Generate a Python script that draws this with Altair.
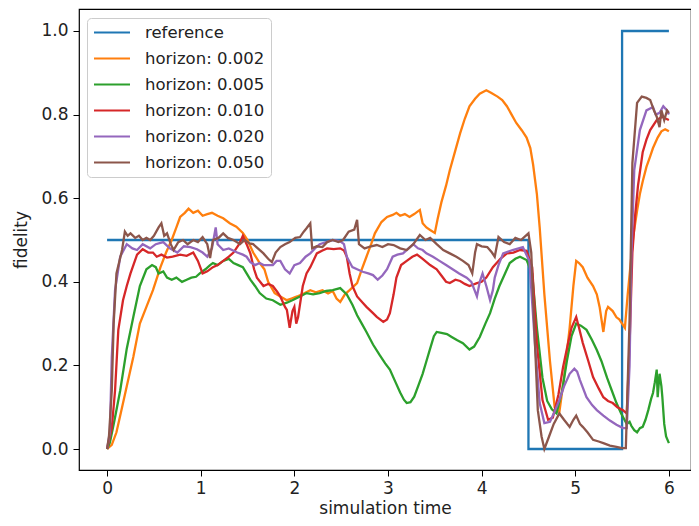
import altair as alt
import pandas as pd

series_names = ["reference", "horizon: 0.002", "horizon: 0.005", "horizon: 0.010",
                "horizon: 0.020", "horizon: 0.050"]
series_colors = ["#1f77b4", "#ff7f0e", "#2ca02c", "#d62728", "#9467bd", "#8c564b"]

x_ticks = [0, 1, 2, 3, 4, 5, 6]
y_ticks = [0.0, 0.2, 0.4, 0.6, 0.8, 1.0]

ref_t = [0.0, 4.5, 4.5, 5.5, 5.5, 6.0]
ref_y = [0.5, 0.5, 0.0, 0.0, 1.0, 1.0]

h002_t = [0, 0.05, 0.1, 0.15, 0.2, 0.28, 0.35, 0.42, 0.49, 0.57, 0.63, 0.69, 0.74, 0.78, 0.83,
          0.87, 0.92, 0.97, 1.02, 1.07, 1.12, 1.18, 1.24, 1.31, 1.38, 1.45, 1.5, 1.56, 1.63, 1.68,
          1.72, 1.79, 1.85, 1.92, 1.97, 2.03, 2.1, 2.17, 2.23, 2.3, 2.36, 2.41, 2.45, 2.49, 2.54,
          2.59, 2.67, 2.72, 2.77, 2.82, 2.86, 2.93, 2.99, 3.05, 3.09, 3.13, 3.18, 3.23, 3.28, 3.34,
          3.37, 3.41, 3.45, 3.5, 3.53, 3.57, 3.62, 3.66, 3.72, 3.77, 3.82, 3.87, 3.93, 3.98, 4.05,
          4.1, 4.17, 4.22, 4.27, 4.32, 4.37, 4.43, 4.48, 4.52, 4.55, 4.59, 4.62, 4.67, 4.73, 4.78,
          4.83, 4.88, 4.94, 4.98, 5.01, 5.04, 5.08, 5.13, 5.19, 5.23, 5.26, 5.3, 5.33, 5.35, 5.4,
          5.44, 5.47, 5.5, 5.53, 5.56, 5.59, 5.62, 5.66, 5.69, 5.72, 5.76, 5.8, 5.83, 5.88, 5.92,
          5.96, 6.0]
h002_y = [0.0, 0.01, 0.04, 0.09, 0.14, 0.22, 0.30, 0.34, 0.38, 0.435, 0.47, 0.50, 0.53, 0.555, 0.565,
          0.575, 0.565, 0.57, 0.558, 0.562, 0.565, 0.558, 0.552, 0.54, 0.532, 0.517, 0.50, 0.47, 0.445, 0.43,
          0.40, 0.373, 0.365, 0.356, 0.36, 0.365, 0.372, 0.38, 0.375, 0.38, 0.372, 0.378, 0.36, 0.352, 0.37,
          0.38, 0.397, 0.43, 0.46, 0.49, 0.516, 0.543, 0.555, 0.56, 0.565, 0.558, 0.562, 0.555, 0.562, 0.572,
          0.54, 0.53, 0.524, 0.517, 0.55, 0.59, 0.63, 0.667, 0.715, 0.755, 0.79, 0.82, 0.838, 0.85, 0.858,
          0.852, 0.843, 0.835, 0.82, 0.80, 0.78, 0.762, 0.745, 0.72, 0.68, 0.61, 0.53, 0.37, 0.21, 0.10,
          0.088, 0.17, 0.29, 0.39, 0.45, 0.445, 0.435, 0.41, 0.39, 0.37, 0.34, 0.28, 0.33, 0.34, 0.33,
          0.315, 0.31, 0.30, 0.29, 0.37, 0.44, 0.51, 0.57, 0.61, 0.64, 0.675, 0.70, 0.72, 0.745, 0.76,
          0.765, 0.76]

h005_t = [0, 0.03, 0.08, 0.14, 0.21, 0.28, 0.35, 0.42, 0.48, 0.52, 0.55, 0.6, 0.64, 0.69, 0.74, 0.8,
          0.85, 0.9, 0.95, 0.99, 1.05, 1.1, 1.13, 1.18, 1.24, 1.3, 1.35, 1.4, 1.45, 1.49, 1.53, 1.58,
          1.63, 1.7, 1.77, 1.85, 1.92, 1.99, 2.06, 2.13, 2.2, 2.27, 2.34, 2.41, 2.49, 2.56, 2.62, 2.67,
          2.72, 2.77, 2.84, 2.91, 2.97, 3.02, 3.08, 3.13, 3.17, 3.2, 3.24, 3.28, 3.33, 3.37, 3.41, 3.45,
          3.49, 3.52, 3.57, 3.63, 3.68, 3.74, 3.8, 3.87, 3.92, 3.98, 4.04, 4.09, 4.14, 4.19, 4.25, 4.3,
          4.36, 4.41, 4.48, 4.54, 4.59, 4.65, 4.7, 4.75, 4.8, 4.86, 4.91, 4.96, 5.01, 5.06, 5.12, 5.18,
          5.23, 5.28, 5.34, 5.39, 5.44, 5.49, 5.55, 5.58, 5.6, 5.63, 5.66, 5.69, 5.72, 5.75, 5.78, 5.81,
          5.83, 5.85, 5.87, 5.88, 5.9, 5.92, 5.93, 5.95, 5.97, 6.0]
h005_y = [0.0, 0.015, 0.07, 0.14, 0.24, 0.316, 0.39, 0.43, 0.44, 0.435, 0.42, 0.425, 0.41, 0.405, 0.41, 0.40,
          0.405, 0.41, 0.412, 0.42, 0.43, 0.44, 0.445, 0.44, 0.45, 0.455, 0.445, 0.44, 0.435, 0.42, 0.405, 0.39,
          0.373, 0.36, 0.356, 0.345, 0.35, 0.357, 0.365, 0.373, 0.37, 0.373, 0.378, 0.38, 0.385, 0.37, 0.345, 0.32,
          0.30, 0.28, 0.25, 0.225, 0.205, 0.19, 0.16, 0.135, 0.118, 0.11, 0.112, 0.125, 0.155, 0.18, 0.21, 0.24,
          0.27, 0.28, 0.278, 0.275, 0.268, 0.26, 0.253, 0.238, 0.245, 0.268, 0.30, 0.325, 0.36, 0.39, 0.42, 0.445,
          0.455, 0.46, 0.452, 0.42, 0.29, 0.17, 0.115, 0.095, 0.085, 0.14, 0.21, 0.27, 0.30, 0.295, 0.285, 0.26,
          0.237, 0.21, 0.17, 0.14, 0.11, 0.085, 0.06, 0.065, 0.055, 0.045, 0.04, 0.05, 0.053, 0.07, 0.093, 0.12,
          0.134, 0.16, 0.19, 0.124, 0.18, 0.15, 0.124, 0.06, 0.03, 0.014]

h010_t = [0, 0.05, 0.085, 0.12, 0.17, 0.21, 0.25, 0.32, 0.38, 0.44, 0.49, 0.53, 0.58, 0.64, 0.7, 0.78,
          0.85, 0.92, 0.97, 1.02, 1.07, 1.13, 1.18, 1.24, 1.3, 1.35, 1.41, 1.45, 1.49, 1.53, 1.57, 1.6,
          1.67, 1.72, 1.77, 1.82, 1.85, 1.9, 1.92, 1.95, 1.98, 2.0, 2.02, 2.04, 2.09, 2.13, 2.17, 2.24,
          2.3, 2.35, 2.42, 2.49, 2.53, 2.56, 2.59, 2.62, 2.67, 2.73, 2.77, 2.84, 2.88, 2.95, 2.99, 3.02,
          3.06, 3.09, 3.14, 3.2, 3.26, 3.31, 3.37, 3.45, 3.52, 3.57, 3.62, 3.66, 3.72, 3.77, 3.82, 3.87,
          3.95, 4.0, 4.05, 4.12, 4.2, 4.27, 4.34, 4.41, 4.48, 4.54, 4.59, 4.65, 4.71, 4.76, 4.82, 4.87,
          4.92, 4.96, 5.01, 5.04, 5.08, 5.14, 5.19, 5.25, 5.3, 5.35, 5.4, 5.45, 5.51, 5.55, 5.58, 5.61,
          5.64, 5.67, 5.72, 5.76, 5.8, 5.87, 5.93, 5.97, 6.0]
h010_y = [0.0, 0.05, 0.14, 0.285, 0.356, 0.39, 0.42, 0.465, 0.478, 0.47, 0.47, 0.46, 0.465, 0.458, 0.46, 0.465,
          0.462, 0.47, 0.45, 0.42, 0.425, 0.435, 0.44, 0.45, 0.46, 0.47, 0.49, 0.51, 0.49, 0.468, 0.43, 0.41,
          0.39, 0.395, 0.39, 0.375, 0.365, 0.34, 0.333, 0.29, 0.33, 0.34, 0.30, 0.316, 0.39, 0.42, 0.435, 0.468,
          0.475, 0.48, 0.478, 0.48, 0.475, 0.46, 0.42, 0.39, 0.365, 0.35, 0.34, 0.325, 0.316, 0.304, 0.31, 0.325,
          0.37, 0.41, 0.44, 0.45, 0.46, 0.465, 0.455, 0.44, 0.43, 0.415, 0.40, 0.397, 0.405, 0.402, 0.395, 0.39,
          0.397, 0.40, 0.41, 0.435, 0.455, 0.468, 0.47, 0.476, 0.474, 0.435, 0.25, 0.117, 0.07, 0.075, 0.13, 0.196,
          0.25, 0.29, 0.316, 0.29, 0.254, 0.21, 0.172, 0.145, 0.124, 0.115, 0.11, 0.10, 0.093, 0.085, 0.25, 0.47,
          0.56, 0.63, 0.71, 0.74, 0.763, 0.787, 0.795, 0.79, 0.787]

h020_t = [0, 0.03, 0.05, 0.085, 0.14, 0.21, 0.27, 0.32, 0.38, 0.46, 0.52, 0.6, 0.67, 0.75, 0.82, 0.89,
          0.96, 1.02, 1.07, 1.12, 1.16, 1.18, 1.24, 1.3, 1.39, 1.45, 1.49, 1.53, 1.58, 1.63, 1.67, 1.71,
          1.77, 1.81, 1.85, 1.9, 1.95, 2.0, 2.06, 2.12, 2.17, 2.22, 2.27, 2.34, 2.41, 2.49, 2.53, 2.56,
          2.62, 2.67, 2.73, 2.79, 2.84, 2.89, 2.94, 2.99, 3.05, 3.1, 3.16, 3.22, 3.27, 3.32, 3.37, 3.41,
          3.48, 3.55, 3.62, 3.69, 3.76, 3.84, 3.89, 3.95, 3.98, 4.01, 4.05, 4.09, 4.12, 4.14, 4.18, 4.23,
          4.33, 4.44, 4.51, 4.57, 4.62, 4.67, 4.73, 4.78, 4.83, 4.88, 4.94, 4.99, 5.02, 5.05, 5.12, 5.18,
          5.23, 5.3, 5.37, 5.44, 5.51, 5.55, 5.58, 5.6, 5.63, 5.69, 5.76, 5.83, 5.86, 5.9, 5.94, 5.98, 6.0]
h020_y = [0.0, 0.04, 0.22, 0.38, 0.46, 0.49, 0.48, 0.476, 0.49, 0.48, 0.49, 0.495, 0.48, 0.47, 0.485, 0.483,
          0.478, 0.47, 0.46, 0.48, 0.53, 0.49, 0.476, 0.48, 0.47, 0.465, 0.46, 0.447, 0.44, 0.445, 0.44, 0.44,
          0.44, 0.45, 0.45, 0.43, 0.42, 0.44, 0.445, 0.46, 0.468, 0.48, 0.49, 0.495, 0.50, 0.497, 0.49, 0.46,
          0.435, 0.43, 0.424, 0.42, 0.416, 0.405, 0.415, 0.43, 0.46, 0.465, 0.468, 0.48, 0.49, 0.48, 0.476, 0.468,
          0.46, 0.45, 0.44, 0.43, 0.42, 0.41, 0.40, 0.365, 0.40, 0.42, 0.39, 0.356, 0.38, 0.41, 0.44, 0.468,
          0.476, 0.483, 0.45, 0.25, 0.11, 0.062, 0.065, 0.09, 0.117, 0.15, 0.18, 0.192, 0.185, 0.165, 0.124, 0.105,
          0.093, 0.08, 0.068, 0.058, 0.05, 0.05, 0.2, 0.47, 0.667, 0.763, 0.81, 0.818, 0.80, 0.804, 0.82, 0.81, 0.80]

h050_t = [0, 0.02, 0.05, 0.07, 0.1, 0.16, 0.19, 0.22, 0.25, 0.3, 0.34, 0.38, 0.42, 0.46, 0.5, 0.55,
          0.58, 0.61, 0.64, 0.68, 0.71, 0.76, 0.81, 0.86, 0.92, 0.97, 1.02, 1.07, 1.1, 1.13, 1.19, 1.24,
          1.29, 1.35, 1.42, 1.47, 1.52, 1.56, 1.61, 1.67, 1.72, 1.76, 1.8, 1.85, 1.9, 1.95, 2.01, 2.06,
          2.1, 2.13, 2.17, 2.19, 2.24, 2.3, 2.35, 2.41, 2.47, 2.52, 2.58, 2.64, 2.67, 2.69, 2.75, 2.82,
          2.88, 2.94, 3.0, 3.06, 3.13, 3.2, 3.27, 3.34, 3.4, 3.45, 3.52, 3.59, 3.66, 3.73, 3.8, 3.86,
          3.9, 3.93, 3.95, 4.0, 4.06, 4.11, 4.14, 4.18, 4.24, 4.3, 4.36, 4.42, 4.47, 4.5, 4.53, 4.57,
          4.6, 4.64, 4.67, 4.72, 4.77, 4.83, 4.88, 4.94, 4.98, 5.01, 5.05, 5.08, 5.13, 5.19, 5.25, 5.3,
          5.37, 5.44, 5.5, 5.54, 5.58, 5.61, 5.66, 5.71, 5.76, 5.8, 5.84, 5.87, 5.9, 5.92, 5.95, 5.98, 6.0]
h050_y = [0.0, 0.03, 0.14, 0.3, 0.42, 0.476, 0.52, 0.51, 0.516, 0.505, 0.51, 0.50, 0.505, 0.50, 0.51, 0.53,
          0.54, 0.51, 0.516, 0.49, 0.476, 0.495, 0.50, 0.49, 0.50, 0.495, 0.507, 0.49, 0.457, 0.50, 0.505, 0.516,
          0.505, 0.50, 0.49, 0.50, 0.492, 0.49, 0.48, 0.468, 0.455, 0.447, 0.47, 0.483, 0.49, 0.495, 0.505, 0.507,
          0.52, 0.528, 0.54, 0.48, 0.485, 0.483, 0.495, 0.50, 0.495, 0.50, 0.52, 0.525, 0.548, 0.49, 0.48, 0.485,
          0.488, 0.483, 0.49, 0.488, 0.48, 0.476, 0.49, 0.512, 0.50, 0.505, 0.49, 0.476, 0.468, 0.46, 0.45, 0.44,
          0.42, 0.47, 0.49, 0.485, 0.483, 0.47, 0.46, 0.507, 0.495, 0.49, 0.505, 0.50, 0.51, 0.516, 0.47, 0.25,
          0.093, 0.03, 0.0, 0.03, 0.06, 0.085, 0.07, 0.053, 0.07, 0.08, 0.06, 0.053, 0.04, 0.022, 0.018, 0.014,
          0.008, 0.005, 0.002, 0.002, 0.31, 0.684, 0.828, 0.843, 0.84, 0.835, 0.81, 0.795, 0.77, 0.81, 0.787, 0.81, 0.804]

all_series = [
    (series_names[0], ref_t, ref_y),
    (series_names[1], h002_t, h002_y),
    (series_names[2], h005_t, h005_y),
    (series_names[3], h010_t, h010_y),
    (series_names[4], h020_t, h020_y),
    (series_names[5], h050_t, h050_y),
]

rows = []
for name, ts, ys in all_series:
    for i, (t, y) in enumerate(zip(ts, ys)):
        rows.append({"series": name, "t": t, "y": y, "i": i})
df = pd.DataFrame(rows)

FONT = "DejaVu Sans"

chart = alt.Chart(df).mark_line(strokeWidth=2.3, clip=True).encode(
    x=alt.X("t:Q",
            scale=alt.Scale(domain=[-0.3, 6.236], nice=False, zero=False),
            axis=alt.Axis(values=x_ticks, format="d", title="simulation time", grid=False,
                          domain=False, tickColor="#000", tickSize=6, tickWidth=1,
                          labelPadding=4, labelFontSize=17, labelColor="#222",
                          titleFontSize=17, titleFontWeight="normal", titleColor="#222",
                          titlePadding=4, labelFont=FONT, titleFont=FONT)),
    y=alt.Y("y:Q",
            scale=alt.Scale(domain=[-0.0502, 1.0526], nice=False, zero=False),
            axis=alt.Axis(values=y_ticks, format=".1f", title="fidelity", grid=False,
                          domain=False, tickColor="#000", tickSize=6, tickWidth=1,
                          labelPadding=5, labelFontSize=17, labelColor="#222",
                          titleFontSize=17, titleFontWeight="normal", titleColor="#222",
                          titlePadding=10, labelFont=FONT, titleFont=FONT)),
    color=alt.Color("series:N",
                    scale=alt.Scale(domain=series_names, range=series_colors),
                    sort=series_names,
                    legend=alt.Legend(title=None, orient="none", legendX=8, legendY=9,
                                      symbolType="stroke", symbolSize=1296, symbolStrokeWidth=2,
                                      labelFont=FONT, labelFontSize=16.5, labelColor="#222",
                                      labelOffset=14, clipHeight=17, rowPadding=9, padding=6,
                                      fillColor="white", strokeColor="#cccccc",
                                      cornerRadius=4)),
    order=alt.Order("i:Q"),
).properties(
    width=612, height=461,
    padding={"left": 71, "top": 1, "right": 0, "bottom": 48},
    autosize=alt.AutoSizeParams(type="none"),
).configure_view(stroke="#000", strokeWidth=1.2)

chart.save("out.html", embed_options={"renderer": "svg", "actions": False})
